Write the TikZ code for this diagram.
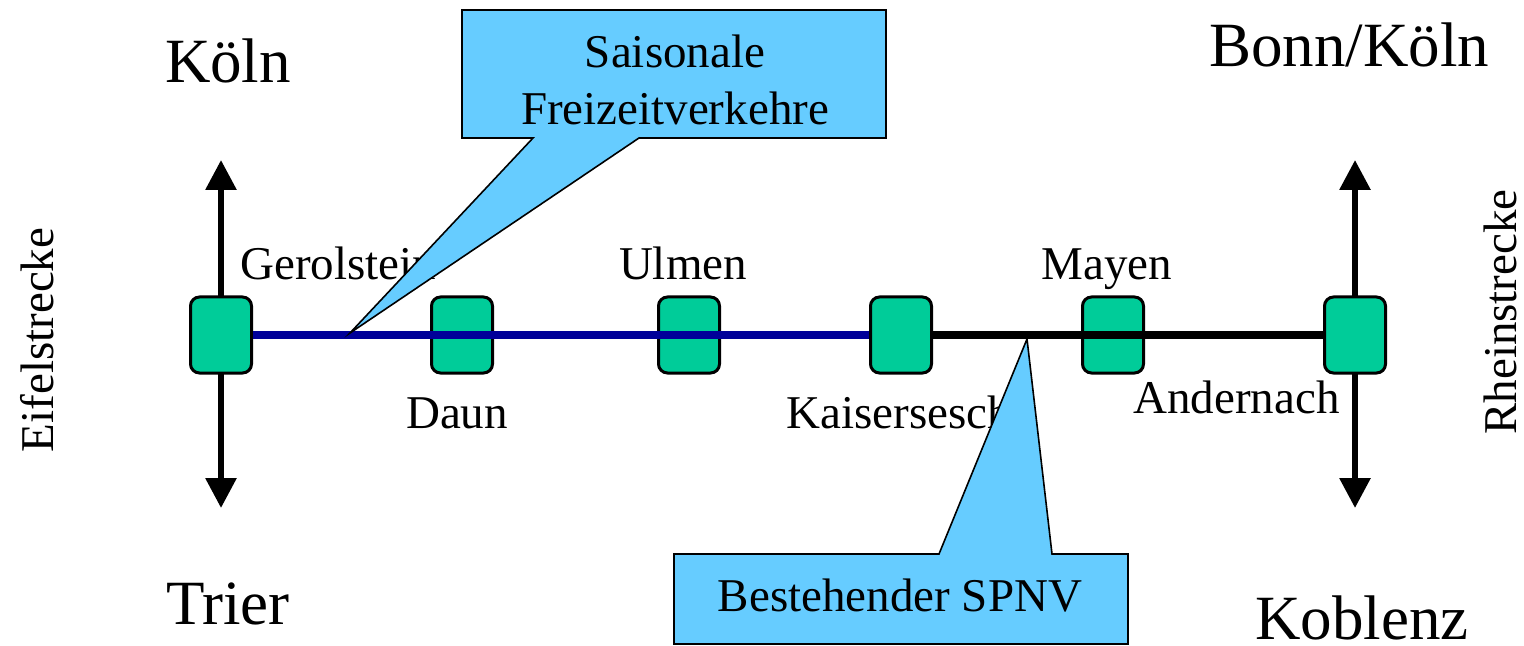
\documentclass[tikz,border=0pt]{standalone}
\usepackage{fontspec}
\setmainfont{Liberation Serif}
\usetikzlibrary{arrows.meta}
\definecolor{stgreen}{HTML}{00CC99}
\definecolor{callblue}{HTML}{66CCFF}
\definecolor{lineblue}{HTML}{000099}
\begin{document}
\begin{tikzpicture}[x=0.5pt,y=-0.5pt,
  station/.style={draw=black,line width=1.5pt,fill=stgreen,rounded corners=4.5pt,minimum width=30.5pt,minimum height=38pt,inner sep=0pt},
  bigtxt/.style={font=\fontsize{31.5}{36}\selectfont,inner sep=0pt},
  lbl/.style={font=\fontsize{23.5}{28}\selectfont,inner sep=0pt},
  callout/.style={draw=black,line width=0.8pt,fill=callblue,line join=miter},
  dirarrow/.style={line width=3pt,-{Triangle[width=15pt,length=15pt]}},
  track/.style={line width=3.6pt}
]
\useasboundingbox (0,0) rectangle (1524,646);
% coordinates for arrow ends
\coordinate (kT) at (221,160);
\coordinate (kB) at (221,508);
\coordinate (rT) at (1355,160);
\coordinate (rB) at (1355,508);
\coordinate (g0) at (221,335);
\coordinate (a0) at (1355,335);
% arrows
\draw[dirarrow] (g0) -- (kT);
\draw[dirarrow] (g0) -- (kB);
\draw[dirarrow] (a0) -- (rT);
\draw[dirarrow] (a0) -- (rB);
% station boxes
\node[station] (ger) at (221,335) {};
\node[station] (dau) at (462,335) {};
\node[station] (ulm) at (689,335) {};
\node[station] (kai) at (901,335) {};
\node[station] (may) at (1113,335) {};
\node[station] (and) at (1355,335) {};
% lines (drawn over intermediate stations)
\draw[track,lineblue] (ger.east) -- (kai.west);
\draw[track,black] (kai.east) -- (and.west);
% city labels
\node[bigtxt,anchor=base] (koeln) at (228,83) {Köln};
\node[bigtxt,anchor=base] (bonn) at (1349,67) {Bonn/Köln};
\node[bigtxt,anchor=base] (trier) at (228,624) {Trier};
\node[bigtxt,anchor=base] (kobl) at (1362,639) {Koblenz};
% station labels
\node[lbl,anchor=base west] (tger) at (240,280) {Gerolstein};
\node[lbl,anchor=base] (tulm) at (683,280) {Ulmen};
\node[lbl,anchor=base] (tmay) at (1107,280) {Mayen};
\node[lbl,anchor=base] (tdau) at (457,428) {Daun};
\node[lbl,anchor=base west] (tkai) at (786,428) {Kaisersesch};
\node[lbl,anchor=base west] (tand) at (1133,413) {Andernach};
% line names
\node[lbl,rotate=90] (eifel) at (37,340) {Eifelstrecke};
\node[lbl,rotate=90] (rhein) at (1500,312) {Rheinstrecke};
% callouts
\draw[callout] (462,10) -- (886,10) -- (886,138) -- (639,138) -- (350,333) -- (533,138) -- (462,138) -- cycle;
\node[lbl,anchor=base] (c1a) at (675,68) {Saisonale};
\node[lbl,anchor=base] (c1b) at (675,125) {Freizeitverkehre};
\draw[callout] (674,554) -- (939,554) -- (1027,339) -- (1052,554) -- (1128,554) -- (1128,644) -- (674,644) -- cycle;
\node[lbl,anchor=base] (c2) at (900,611) {Bestehender SPNV};
\end{tikzpicture}
\end{document}
